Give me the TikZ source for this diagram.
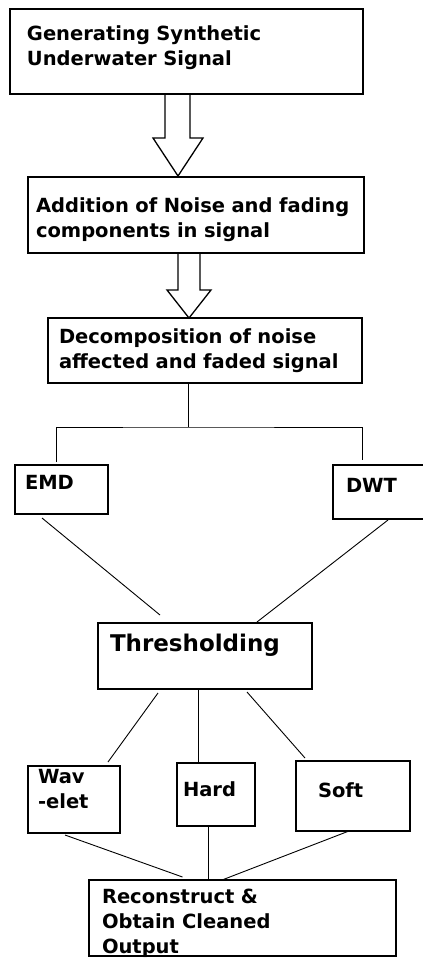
\documentclass[tikz,border=0pt]{standalone}
\usepackage{fontspec}
\setmainfont{DejaVu Sans}
\usetikzlibrary{positioning}

\begin{document}
\begin{tikzpicture}[block/.style={draw, 
      line width=1.3pt, 
      outer sep=0pt, 
      inner ysep=2pt, 
      anchor=north west, 
      align=left, 
      font=\bfseries\fontsize{19.5}{25}\selectfont},
    lift/.style={execute at end node={\rule[-#1]{0pt}{#1}}},
    drop/.style={execute at begin node={\rule{0pt}{#1}}},
    link/.style={line width=0.9pt},
    hollow/.style={line width=1.3pt, line join=miter}]
  \useasboundingbox (0,0) rectangle (423pt,-959pt);

% STAGES

  \node [block, text width=319pt, inner xsep=17pt, minimum height=85pt, 
    lift=12.5pt] (gen) at (10pt,-9pt)
    {Generating Synthetic\\Underwater Signal};

  \node [block, text width=320pt, inner xsep=8pt, minimum height=76pt, 
    drop=23.6pt, below right=83pt and 18pt of gen.south west] (noise)
    {Addition of Noise and fading\\components in signal};

  \node [block, text width=292pt, inner xsep=11pt, minimum height=65pt, 
    below right=65pt and 20pt of noise.south west] (dec)
    {Decomposition of noise\\affected and faded signal};

  \node [block, text width=73pt, inner xsep=10pt, minimum height=49pt, 
    lift=15pt, below left=82pt and 33pt of dec.south west, 
    anchor=north west] (emd) {EMD};

  \node [block, text width=73pt, inner xsep=13pt, minimum height=54pt, 
    lift=14pt, below left=82pt and 29pt of dec.south east, 
    anchor=north west] (dwt) {DWT};

  \node [block, text width=190pt, inner xsep=12pt, minimum height=66pt, 
    lift=25.5pt, font=\bfseries\fontsize{23}{28}\selectfont, 
    below right=109pt and 83pt of emd.south west] (thr) {Thresholding};

  % THRESHOLD TYPES

  \node [block, text width=72pt, inner xsep=10pt, minimum height=67pt, 
    lift=22pt, below left=77pt and 70pt of thr.south west, 
    anchor=north west] (wav) {Wav\\-elet};

  \node [block, text width=66pt, inner xsep=6pt, minimum height=63pt, 
    lift=10pt, below right=74pt and 79pt of thr.south west] (hard) {Hard};

  \node [block, text width=70pt, inner xsep=22pt, minimum height=70pt, 
    lift=11pt, below left=72pt and 16pt of thr.south east, 
    anchor=north west] (soft) {Soft};

  \node [block, text width=281pt, inner xsep=13pt, minimum height=76pt, 
    drop=20pt, below left=54pt and 88pt of hard.south west, 
    anchor=north west] (rec)
    {Reconstruct \&\\Obtain Cleaned\\\raisebox{0pt}[\height][0pt]{Output}};

  % ARROWS AND LINKS

  \draw[hollow] ([xshift=-21.5pt]gen.south) -- ++(0,-44pt) -- ++(-12pt,0) 
    -- ++(25pt,-38pt) -- ++(25pt,38pt) -- ++(-13pt,0) -- ++(0,44pt);

  \draw[hollow] ([xshift=-18pt]noise.south) -- ++(0,-37pt) -- ++(-11pt,0) 
    -- ++(22pt,-28pt) -- ++(22pt,28pt) -- ++(-11pt,0) -- ++(0,37pt);

  \draw[link] ([xshift=-17pt]dec.south) -- ++(0,-44pt) coordinate (fork);
  \draw[link] ([xshift=-5.5pt,yshift=3pt]emd.north) |- (fork) 
    -| ([xshift=-20.5pt,yshift=5pt]dwt.north);

  \draw[link] ([xshift=-19.5pt,yshift=-4pt]emd.south) 
    -- ([xshift=-45pt,yshift=8pt]thr.north);
  \draw[link] ([xshift=5.5pt,yshift=-1pt]dwt.south) 
    -- ([xshift=52pt,yshift=1pt]thr.north);

  \draw[link] ([xshift=-47pt,yshift=-4pt]thr.south) 
    -- ([xshift=34pt,yshift=4pt]wav.north);
  \draw[link] ([xshift=-7pt]thr.south) -- ([xshift=-18pt]hard.north);
  \draw[link] ([xshift=42pt,yshift=-3pt]thr.south) 
    -- ([xshift=-48pt,yshift=3pt]soft.north);

  \draw[link] ([xshift=-9pt,yshift=-2pt]wav.south) 
    -- ([xshift=-60pt,yshift=3pt]rec.north);
  \draw[link] ([xshift=-8pt]hard.south) -- ([xshift=-34.5pt]rec.north);
  \draw[link] ([xshift=-4pt]soft.south) -- ([xshift=-20.5pt]rec.north);

\end{tikzpicture}
\end{document}
